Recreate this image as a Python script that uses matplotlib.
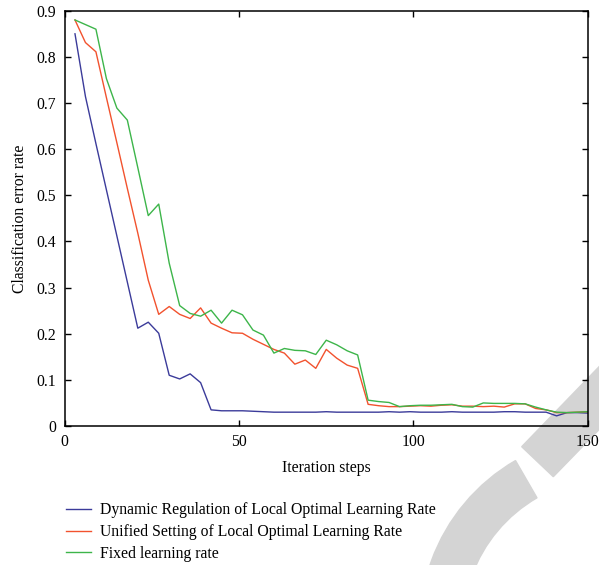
import matplotlib
matplotlib.use("Agg")
import matplotlib.pyplot as plt
from matplotlib.patches import Polygon, Wedge
import numpy as np

steps = np.arange(3, 151, 3)

dynamic_rate = [0.850, 0.714, 0.612, 0.512, 0.412, 0.312, 0.212, 0.225, 0.201, 0.110,
                0.102, 0.113, 0.094, 0.035, 0.033, 0.033, 0.033, 0.032, 0.031, 0.030,
                0.030, 0.030, 0.030, 0.030, 0.031, 0.030, 0.030, 0.030, 0.030, 0.030,
                0.031, 0.030, 0.031, 0.030, 0.030, 0.030, 0.031, 0.030, 0.030, 0.030,
                0.030, 0.031, 0.031, 0.030, 0.030, 0.030, 0.022, 0.029, 0.029, 0.028]

unified_rate = [0.880, 0.831, 0.811, 0.712, 0.614, 0.515, 0.418, 0.316, 0.242, 0.259,
                0.242, 0.233, 0.256, 0.223, 0.212, 0.202, 0.201, 0.188, 0.177, 0.166,
                0.158, 0.134, 0.143, 0.125, 0.166, 0.147, 0.132, 0.125, 0.047, 0.044,
                0.042, 0.042, 0.043, 0.044, 0.043, 0.045, 0.046, 0.043, 0.043, 0.042,
                0.043, 0.041, 0.048, 0.048, 0.038, 0.035, 0.029, 0.029, 0.030, 0.031]

fixed_rate = [0.880, 0.870, 0.860, 0.753, 0.689, 0.663, 0.560, 0.456, 0.481, 0.353,
              0.261, 0.244, 0.238, 0.251, 0.223, 0.251, 0.241, 0.208, 0.197, 0.158,
              0.168, 0.164, 0.163, 0.155, 0.186, 0.176, 0.163, 0.154, 0.056, 0.053,
              0.051, 0.042, 0.044, 0.045, 0.045, 0.046, 0.047, 0.042, 0.041, 0.050,
              0.049, 0.049, 0.049, 0.048, 0.041, 0.035, 0.030, 0.029, 0.030, 0.031]

labels = ["Dynamic Regulation of Local Optimal Learning Rate",
          "Unified Setting of Local Optimal Learning Rate",
          "Fixed learning rate"]
colors = ["#3b3b9a", "#f2522e", "#3db54a"]

x_ticks = [0, 50, 100, 150]
y_ticks = [0, 0.1, 0.2, 0.3, 0.4, 0.5, 0.6, 0.7, 0.8, 0.9]
y_ticklabels = ["0", "0.1", "0.2", "0.3", "0.4", "0.5", "0.6", "0.7", "0.8", "0.9"]

plt.rcParams["font.family"] = ["Liberation Serif", "DejaVu Serif"]

fig = plt.figure(figsize=(5.99, 5.65), dpi=100)

# grey watermark shapes, kept behind the chart
grey = "#d4d4d4"
fig.patches.append(Wedge((6.11, -0.61), 1.91, 120, 200, width=0.43, color=grey,
                         transform=fig.dpi_scale_trans, zorder=-5))
fig.patches.append(Polygon([(5.217, 1.183), (6.22, 2.22), (6.54, 1.92), (5.533, 0.883)],
                           closed=True, color=grey, transform=fig.dpi_scale_trans, zorder=-5))

ax = fig.add_axes([0.1077, 0.246, 0.8739, 0.735])
ax.set_zorder(1)
ax.patch.set_alpha(0)
for series, label, color in zip([dynamic_rate, unified_rate, fixed_rate], labels, colors):
    ax.plot(steps, series, color=color, lw=1.0, label=label)

ax.set_xlim(0, 150)
ax.set_ylim(0, 0.9)
ax.set_xticks(x_ticks)
ax.set_yticks(y_ticks)
ax.set_yticklabels(y_ticklabels)
ax.tick_params(direction="in", top=True, right=True, length=4, width=1,
               labelsize=11.3, pad=6)
for s in ax.spines.values():
    s.set_linewidth(1.1)
ax.set_xlabel("Iteration steps", fontsize=11.3, labelpad=7)
ax.set_ylabel("Classification error rate", fontsize=11.3, labelpad=6)

ax.legend(loc="upper left", bbox_to_anchor=(-0.01, -0.168), frameon=False,
          fontsize=11.3, handlelength=1.6, handletextpad=0.6, labelspacing=0.38,
          borderaxespad=0)

fig.savefig("out.png", dpi=100)
